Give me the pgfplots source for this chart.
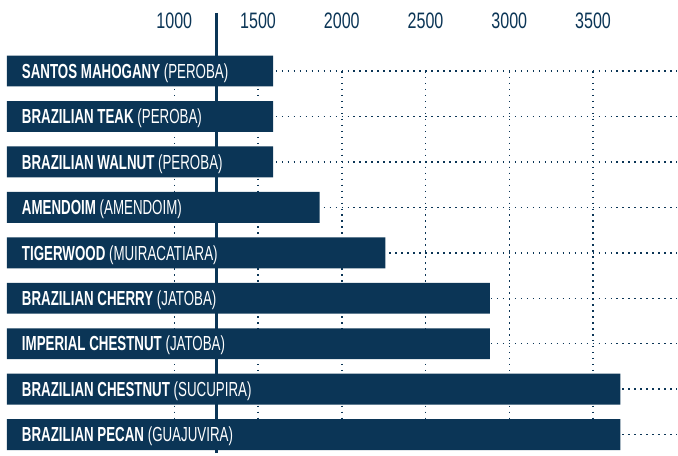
\documentclass[border=0pt]{standalone}
\usepackage{fontspec}
\setmainfont{Liberation Sans}
\newfontfamily\tickfont{Liberation Sans}[FakeStretch=0.72]
\newfontfamily\labfont{Liberation Sans}[FakeStretch=0.655]
\usepackage{pgfplots}
\pgfplotsset{compat=1.18}
\definecolor{navy}{HTML}{0B3556}

\begin{document}
\begin{tikzpicture}[
  lab/.style={font=\labfont\fontsize{20.5}{20.5}\selectfont, text=white,
    anchor=base west, inner sep=0pt, xshift=15bp, yshift=-7.2bp}]
\begin{axis}[
  scale only axis, width=673bp, height=383.7bp,
  xbar, bar width=0.68, y dir=reverse,
  xmin=0, xmax=4003, ymin=0, ymax=8.41, enlargelimits=false, clip=false,
  axis line style={draw=none}, major tick length=0,
  xtick={1000,1500,2000,2500,3000,3500},
  xticklabels={1000,1500,2000,2500,3000,3500},
  xticklabel pos=upper,
  xticklabel style={font=\tickfont\fontsize{22.5}{22.5}\selectfont, text=navy,
    anchor=base, inner sep=0pt, yshift=43bp},
  ytick={0,...,8}, yticklabels={},
  grid=major,
  major grid style={navy, line width=1.5bp, dash pattern=on 1.5bp off 4.5bp},
]
% hardness values
\addplot[fill=navy, draw=none] coordinates {
  (1590,0) (1590,1) (1590,2) (1867,3) (2260,4)
  (2884,5) (2884,6) (3664,7) (3664,8)};
% reference line
\addplot[sharp plot, no markers, navy, line width=3.5bp]
  coordinates {(1253,-1.28) (1253,8.41)};
\node[lab] at (axis cs:0,0) {{\bfseries SANTOS MAHOGANY} (PEROBA)};
\node[lab] at (axis cs:0,1) {{\bfseries BRAZILIAN TEAK} (PEROBA)};
\node[lab] at (axis cs:0,2) {{\bfseries BRAZILIAN WALNUT} (PEROBA)};
\node[lab] at (axis cs:0,3) {{\bfseries AMENDOIM} (AMENDOIM)};
\node[lab] at (axis cs:0,4) {{\bfseries TIGERWOOD} (MUIRACATIARA)};
\node[lab] at (axis cs:0,5) {{\bfseries BRAZILIAN CHERRY} (JATOBA)};
\node[lab] at (axis cs:0,6) {{\bfseries IMPERIAL CHESTNUT} (JATOBA)};
\node[lab] at (axis cs:0,7) {{\bfseries BRAZILIAN CHESTNUT} (SUCUPIRA)};
\node[lab] at (axis cs:0,8) {{\bfseries BRAZILIAN PECAN} (GUAJUVIRA)};
\end{axis}
\path ([xshift=-5bp,yshift=71.3bp]current axis.north west);
\end{tikzpicture}
\end{document}
